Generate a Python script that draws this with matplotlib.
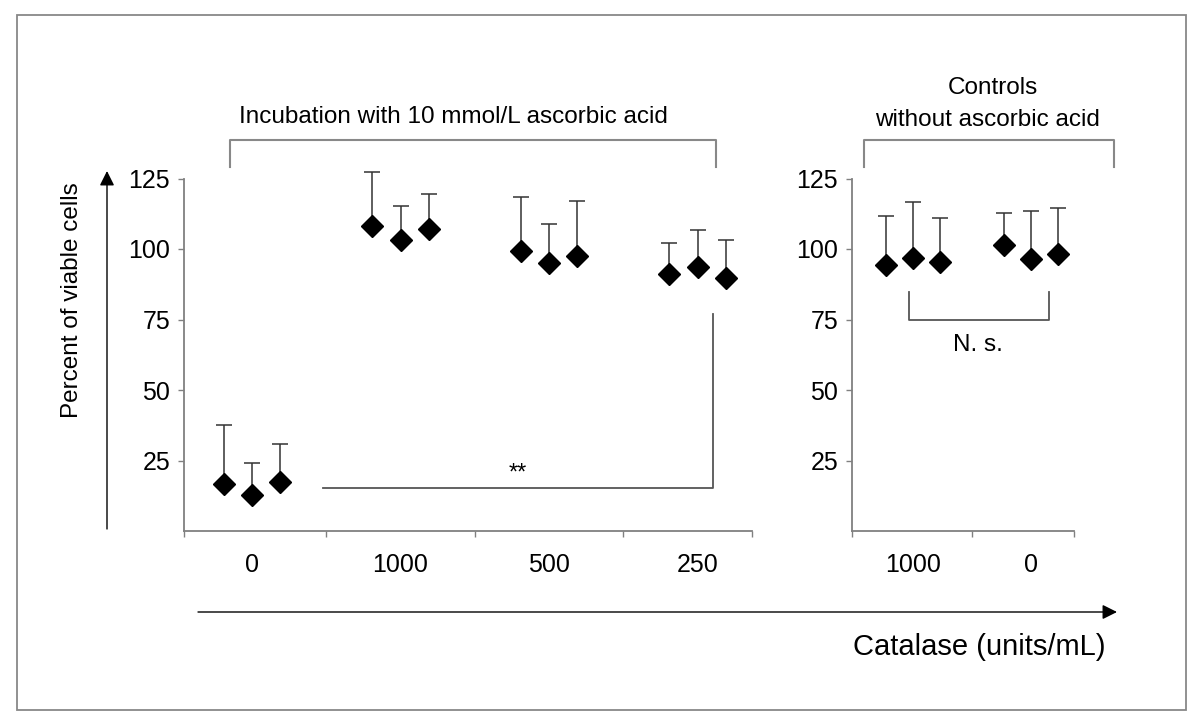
import matplotlib
matplotlib.use('Agg')
import matplotlib.pyplot as plt
from matplotlib.lines import Line2D
from matplotlib.patches import FancyArrowPatch, Rectangle
import numpy as np

plt.rcParams['font.family'] = ['Liberation Sans', 'DejaVu Sans']

# Data (percent of viable cells, mean and upper SD)
left_doses = ['0', '1000', '500', '250']
left_means = [[16.6, 12.7, 17.3],
              [108.2, 103.3, 107.2],
              [99.4, 95.1, 97.6],
              [91.2, 93.7, 89.8]]
left_sd = [[20.9, 11.3, 13.5],
           [19.2, 12.0, 12.4],
           [19.1, 13.8, 19.5],
           [11.0, 13.1, 13.5]]

right_doses = ['1000', '0']
right_means = [[94.4, 96.9, 95.5],
               [101.3, 96.3, 98.1]]
right_sd = [[17.4, 19.9, 15.6],
            [11.6, 17.3, 16.5]]

y_ticks = [25, 50, 75, 100, 125]

W, H = 1200, 725
fig = plt.figure(figsize=(W / 100, H / 100), dpi=100)


def fx(x):
    return x / W


def fy(y):
    return 1 - y / H


def fig_line(xs, ys, color='#666666', lw=1.3):
    fig.add_artist(Line2D([fx(x) for x in xs], [fy(y) for y in ys],
                          transform=fig.transFigure, color=color, lw=lw))


def fig_text(x, y, s, size=17.5, **kw):
    fig.text(fx(x), fy(y), s, fontsize=size, ha='center', va='center', **kw)


def draw_panel(ax, doses, means, sds, xlim, offset):
    for i, (m, s) in enumerate(zip(means, sds)):
        xs = i + np.array([-offset, 0, offset])
        ax.errorbar(xs, m, yerr=[np.zeros(3), s], fmt='none',
                    ecolor='#333333', elinewidth=1.1, capsize=5.5,
                    capthick=1.1, zorder=2, clip_on=False)
        ax.plot(xs, m, 'D', color='black', ms=11.5, zorder=3, clip_on=False)

    ax.set_ylim(0, 125)
    ax.set_xlim(*xlim)
    for side in ['top', 'right']:
        ax.spines[side].set_visible(False)
    for side in ['left', 'bottom']:
        ax.spines[side].set_color('#808080')
        ax.spines[side].set_linewidth(1.3)

    ax.set_yticks(y_ticks)
    ax.set_yticklabels([str(t) for t in y_ticks])
    ax.tick_params(axis='y', length=4, width=1, color='#808080',
                   labelsize=18, pad=6)

    ax.set_xticks(np.arange(len(doses)))
    ax.set_xticklabels(doses)
    ax.tick_params(axis='x', which='major', length=0, labelsize=18, pad=16)
    bounds = [xlim[0]] + list(np.arange(1, len(doses)) - 0.5) + [xlim[1]]
    ax.set_xticks(bounds, minor=True)
    ax.tick_params(axis='x', which='minor', length=4, width=1, color='#808080')


ax1 = fig.add_axes([fx(184), fy(531), fx(752) - fx(184), fy(178.5) - fy(531)])
draw_panel(ax1, left_doses, left_means, left_sd, (-0.458, 3.367), 0.19)

ax2 = fig.add_axes([fx(852), fy(531), fx(1074) - fx(852), fy(178.5) - fy(531)])
draw_panel(ax2, right_doses, right_means, right_sd, (-0.517, 1.364), 0.23)

# outer frame
fig.add_artist(Rectangle((fx(17), fy(710)), fx(1186) - fx(17), fy(15) - fy(710),
                         transform=fig.transFigure, fill=False,
                         edgecolor='#888888', lw=1.3))

# group brackets
fig_line([230, 230, 716, 716], [167, 140, 140, 167], color='#888888', lw=1.5)
fig_line([864, 864, 1114, 1114], [167, 140, 140, 167], color='#888888', lw=1.5)
fig_text(453, 117, 'Incubation with 10 mmol/L ascorbic acid')
fig_text(993, 88, 'Controls')
fig_text(987, 120, 'without ascorbic acid')

# significance markers
fig_line([323, 713, 713], [488, 488, 314], color='#555555', lw=1.3)
fig_text(518, 474, '**', size=17)
fig_line([909, 909, 1049, 1049], [292, 320, 320, 292], color='#555555', lw=1.3)
fig_text(978, 345, 'N. s.')

# axis arrows
fig.add_artist(FancyArrowPatch((fx(107), fy(529)), (fx(107), fy(171)),
                               transform=fig.transFigure, arrowstyle='-|>',
                               mutation_scale=22, color='black', lw=1,
                               shrinkA=0, shrinkB=0))
fig.add_artist(FancyArrowPatch((fx(198), fy(612)), (fx(1117), fy(612)),
                               transform=fig.transFigure, arrowstyle='-|>',
                               mutation_scale=22, color='black', lw=1,
                               shrinkA=0, shrinkB=0))
fig_text(72, 300, 'Percent of viable cells', rotation=90)
fig_text(979, 647, 'Catalase (units/mL)', size=21)

fig.savefig('out.png', dpi=100)
